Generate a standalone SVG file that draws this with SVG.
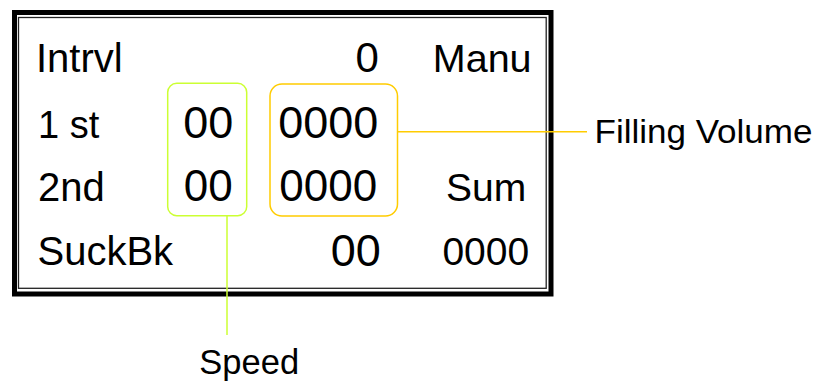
<svg xmlns="http://www.w3.org/2000/svg" width="819" height="381" viewBox="0 0 819 381">
<style>
text{font-family:"Liberation Sans",Arial,sans-serif;fill:#000}
.mid{text-anchor:middle}
.green{fill:none;stroke:#ccff33;stroke-width:1.5}
.orange{fill:none;stroke:#ffcc00;stroke-width:1.5}
</style>
<rect width="819" height="381" fill="#fff"/>
<g id="frame">
<rect x="14.5" y="12.5" width="536.5" height="281.5" fill="none" stroke="#000" stroke-width="5"/>
<rect x="18.5" y="17.5" width="527.7" height="270.8" fill="none" stroke="#222" stroke-width="1.3"/>
</g>
<g id="connectors">
<line class="orange" x1="397.5" y1="131.7" x2="587" y2="131.7"/>
<line class="green" x1="227" y1="215.7" x2="227" y2="335"/>
</g>
<g id="speed-box"><rect class="green" x="167.7" y="83.3" width="79" height="132.4" rx="9"/></g>
<g id="volume-box"><rect class="orange" x="270" y="84" width="127.5" height="132" rx="12"/></g>
<g id="labels">
<text x="36" y="72" font-size="40">Intrvl</text>
<text x="38" y="137.5" font-size="38">1 st</text>
<text x="38" y="201" font-size="40">2nd</text>
<text x="37.5" y="265" font-size="40">SuckBk</text>
<text class="mid" x="208.3" y="137.5" font-size="45">00</text>
<text class="mid" x="208.3" y="201" font-size="44">00</text>
<text class="mid" x="367.2" y="72" font-size="42">0</text>
<text class="mid" x="482.2" y="72" font-size="39.5">Manu</text>
<text class="mid" x="328.3" y="137.5" font-size="45">0000</text>
<text class="mid" x="328.3" y="201" font-size="44">0000</text>
<text class="mid" x="486.2" y="200.5" font-size="39">Sum</text>
<text class="mid" x="355.8" y="266" font-size="45">00</text>
<text class="mid" x="485.8" y="265" font-size="39">0000</text>
</g>
<g id="filling-volume"><text x="594.5" y="143" font-size="34" textLength="218" lengthAdjust="spacingAndGlyphs">Filling Volume</text></g>
<g id="speed"><text class="mid" x="249.2" y="374" font-size="34.5">Speed</text></g>
</svg>
